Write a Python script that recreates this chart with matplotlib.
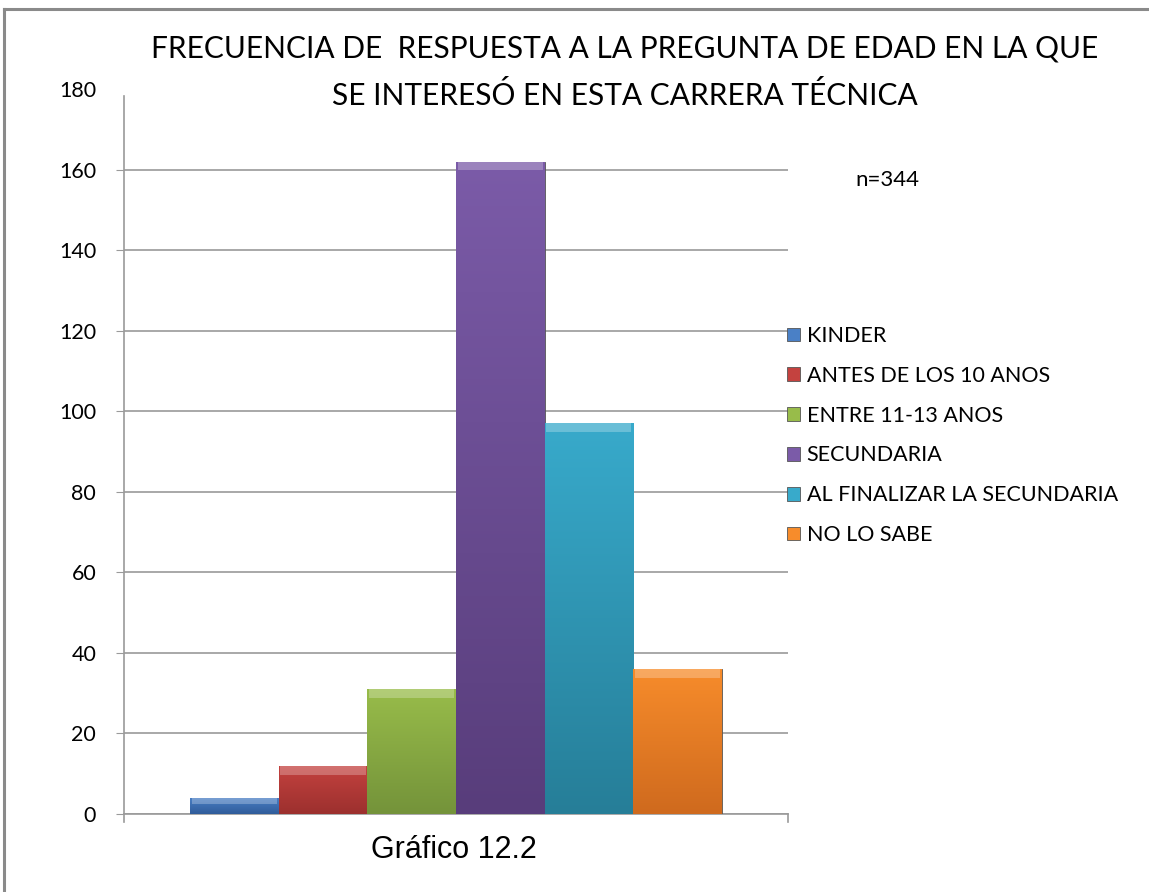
import numpy as np
import matplotlib.pyplot as plt
from matplotlib.lines import Line2D
from matplotlib.colors import LinearSegmentedColormap

categorias = ["KINDER", "ANTES DE LOS 10 ANOS", "ENTRE 11-13 ANOS",
              "SECUNDARIA", "AL FINALIZAR LA SECUNDARIA", "NO LO SABE"]
valores = [4, 12, 31, 162, 97, 36]
# color claro (arriba) y oscuro (abajo) de cada barra
colores_claros = ["#4a80c6", "#c4423f", "#98bc4a", "#7b5ba8", "#38aacb", "#f78c2b"]
colores_oscuros = ["#305c9a", "#9c302e", "#74933a", "#583d7b", "#267e98", "#cf6a1e"]
titulo = "FRECUENCIA DE  RESPUESTA A LA PREGUNTA DE EDAD EN LA QUE\nSE INTERESÓ EN ESTA CARRERA TÉCNICA"
y_ticks = list(range(0, 181, 20))

fig = plt.figure(figsize=(11.49, 8.92), dpi=100)
ax = fig.add_axes([0.1079, 0.0874, 0.5779, 0.8128])

ancho = 0.1335
n = len(valores)
gradiente = np.linspace(1, 0, 256).reshape(-1, 1)
for i, (cat, val) in enumerate(zip(categorias, valores)):
    x = (i - (n - 1) / 2) * ancho
    barra = ax.bar(x, val, width=ancho, color=colores_claros[i], edgecolor="#555555",
                   linewidth=0.6, label=cat, zorder=3)[0]
    cmap = LinearSegmentedColormap.from_list("g%d" % i, [colores_oscuros[i], colores_claros[i]])
    img = ax.imshow(gradiente, cmap=cmap, aspect="auto", zorder=3.5,
                    extent=[x - ancho / 2, x + ancho / 2, 0, val])
    img.set_clip_path(barra)
    # borde biselado arriba
    ax.bar(x, val * 0.0 + min(2.2, val * 0.35), bottom=val - min(2.2, val * 0.35),
           width=ancho * 0.96, color="white", alpha=0.25, linewidth=0, zorder=4)

ax.set_xlim(-0.5, 0.5)
ax.set_ylim(0, 180)
ax.set_yticks(y_ticks)
ax.set_xticks([])
ax.grid(axis="y", color="#9a9a9a", linewidth=1.2, zorder=0)
ax.get_ygridlines()[-1].set_visible(False)
ax.yaxis.get_major_ticks()[-1].tick1line.set_visible(False)
for s in ["top", "right"]:
    ax.spines[s].set_visible(False)
ax.spines["left"].set_bounds(0, 178.3)
ax.spines["left"].set_color("#9a9a9a")
ax.spines["bottom"].set_color("#9a9a9a")
ax.spines["left"].set_linewidth(1.2)
ax.spines["bottom"].set_linewidth(1.2)
ax.tick_params(axis="y", length=6, color="#9a9a9a", labelsize=15.5, pad=14)
for lbl in ax.get_yticklabels():
    lbl.set_family("Lato")
# marcas de los extremos del eje x
ax.plot([-0.5, -0.5], [0, -2], color="#9a9a9a", lw=1.2, clip_on=False)
ax.plot([0.5, 0.5], [0, -2], color="#9a9a9a", lw=1.2, clip_on=False)

fig.text(0.544, 0.919, titulo, ha="center", va="center", fontsize=21.5,
         family="Lato", linespacing=1.8)
fig.text(0.772, 0.798, "n=344", ha="center", va="center", fontsize=16, family="Lato")
fig.text(0.395, 0.047, "Gráfico 12.2", ha="center", va="center", fontsize=22,
         family="Liberation Sans")

leg = ax.legend(loc="center left", bbox_to_anchor=(0.999, 0.522), frameon=False,
                prop={"family": "Lato", "size": 15.5}, handlelength=0.6,
                handleheight=0.6, handletextpad=0.3, labelspacing=0.92,
                borderaxespad=0, borderpad=0)

# marco de la imagen (solo arriba e izquierda)
fig.add_artist(Line2D([0.0035, 1.0], [0.9895, 0.9895], transform=fig.transFigure,
                      color="#8a8a8a", linewidth=2.2))
fig.add_artist(Line2D([0.0035, 0.0035], [0.0, 0.9895], transform=fig.transFigure,
                      color="#8a8a8a", linewidth=2.2))

plt.savefig("out.png")
